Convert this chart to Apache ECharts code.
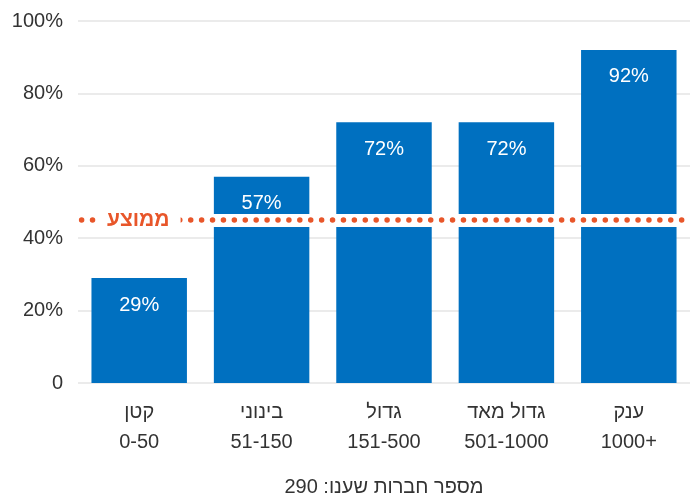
<!DOCTYPE html>
<html>
<head>
<meta charset="utf-8">
<script src="https://cdn.jsdelivr.net/npm/echarts@6/dist/echarts.min.js"></script>
<style>
html,body{margin:0;padding:0;background:#fff;}
#chart{width:694px;height:497px;}
</style>
</head>
<body>
<div id="chart"></div>
<script>
const categoryNames = ['קטן', 'בינוני', 'גדול', 'גדול מאד', 'ענק'];
const categoryRanges = ['0-50', '51-150', '151-500', '501-1000', '1000+'];
const values = [29, 57, 72, 72, 92];
const averageValue = 45;
const averageLabel = 'ממוצע';
const yTicks = [0, 20, 40, 60, 80, 100];
const yTickLabels = ['0', '20%', '40%', '60%', '80%', '100%'];
const xAxisTitle = 'מספר חברות שענו: 290';

const FONT = '"Liberation Sans", Arial, sans-serif';
const categories = categoryNames.map((n, i) => n + '\n' + categoryRanges[i]);

const chart = echarts.init(document.getElementById('chart'), null, {renderer: 'canvas'});
chart.setOption({
  animation: false,
  backgroundColor: '#ffffff',
  textStyle: {fontFamily: FONT},
  grid: {left: 78, right: 4, top: 21, bottom: 114, containLabel: false, outerBoundsMode: 'none'},
  xAxis: {
    type: 'category',
    data: categories,
    axisLine: {show: false},
    axisTick: {show: false},
    axisLabel: {
      color: '#333', fontSize: 20, lineHeight: 30, margin: 14, fontFamily: FONT
    },
    name: xAxisTitle,
    nameLocation: 'middle',
    nameGap: 94,
    nameTextStyle: {color: '#333', fontSize: 20, fontFamily: FONT}
  },
  yAxis: {
    type: 'value',
    min: 0, max: 100, interval: 20,
    axisLine: {show: false},
    axisTick: {show: false},
    splitLine: {lineStyle: {color: '#e4e4e4', width: 1.5}},
    axisLabel: {
      color: '#333', fontSize: 20, margin: 15, fontFamily: FONT,
      formatter: v => yTickLabels[yTicks.indexOf(v)]
    }
  },
  series: [{
    type: 'bar',
    data: values,
    barCategoryGap: '22%',
    itemStyle: {color: '#0070c0'},
    label: {
      show: true, position: 'insideTop', distance: 17,
      color: '#ffffff', fontSize: 20, fontFamily: FONT,
      formatter: p => p.value + '%'
    },
    markLine: {
      silent: true,
      symbol: ['none', 'none'],
      animation: false,
      data: [
        {
          yAxis: averageValue,
          lineStyle: {color: '#ffffff', width: 13, type: 'solid', opacity: 1},
          label: {show: false}
        },
        {
          yAxis: averageValue,
          lineStyle: {color: '#e8562a', width: 5.5, type: [0.01, 10.9], cap: 'round', dashOffset: 7.3, opacity: 1},
          label: {
            show: true, position: 'insideStart', distance: [18, 0],
            formatter: averageLabel,
            color: '#e8562a', fontSize: 21, fontWeight: 'bold', fontFamily: FONT,
            backgroundColor: '#ffffff', padding: [2, 11], lineHeight: 20
          }
        }
      ]
    }
  }]
});
</script>
</body>
</html>
